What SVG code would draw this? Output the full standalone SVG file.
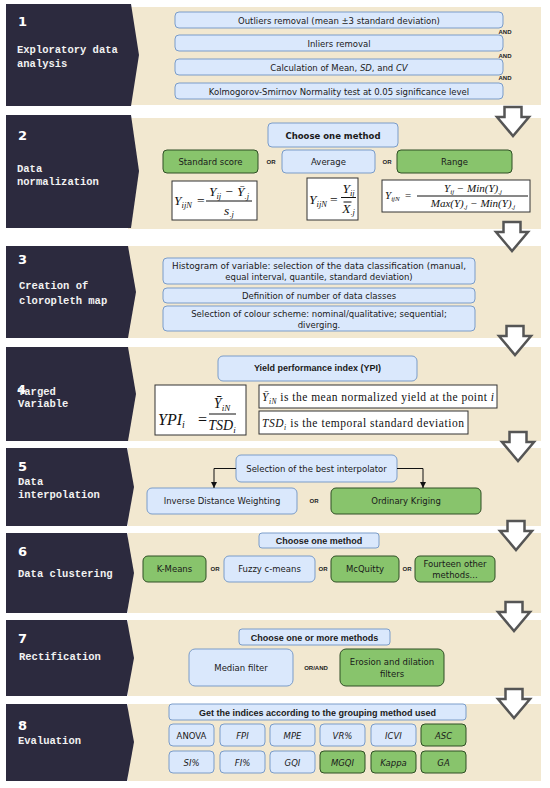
<svg xmlns="http://www.w3.org/2000/svg" width="550" height="788" viewBox="0 0 550 788">
<style>
.bg{fill:#f2e8d0}
.dk{fill:#2c2a3e}
.bl{fill:#dae8fc;stroke:#7a9cc9;stroke-width:1}
.gr{fill:#88c46c;stroke:#2f4f25;stroke-width:1}
.wb{fill:#fff;stroke:#333;stroke-width:1}
.t{font-family:"DejaVu Sans",Verdana,sans-serif;font-size:8.5px;fill:#1a1a1a;text-anchor:middle}
.h{font-family:"Liberation Sans",Arial,sans-serif;font-weight:bold;font-size:9px;fill:#1a1a1a;text-anchor:middle}
.lab{font-family:"Liberation Mono","Courier New",monospace;font-weight:bold;font-size:10.5px;fill:#f2f2f2}
.num{font-family:"DejaVu Sans",Verdana,sans-serif;font-weight:bold;font-size:13px;fill:#fff}
.op{font-family:"Liberation Sans",Arial,sans-serif;font-weight:bold;font-size:6px;fill:#222;text-anchor:middle}
.m{font-family:"Liberation Serif","Times New Roman",serif;font-style:italic;fill:#111}
.r{font-family:"Liberation Serif","Times New Roman",serif;fill:#111}
.ba{fill:#fff;stroke:#555;stroke-width:2.5;stroke-linejoin:miter}
.ln{fill:none;stroke:#111;stroke-width:1}
.i{font-style:italic}
</style>
<defs>
<marker id="ah" viewBox="0 0 10 10" refX="10" refY="5" markerWidth="6" markerHeight="6" markerUnits="userSpaceOnUse" orient="auto"><path d="M0,0 L10,5 L0,10 z" fill="#111"/></marker>
</defs>

<!-- Stage 1 -->
<g id="stage1">
<rect class="bg" x="128" y="7" width="413" height="98"/>
<path class="dk" d="M6,4 H131 L139,55 L131,106 H6 Z"/>
<text class="num" x="18" y="26">1</text>
<text class="lab" x="17" y="53">Exploratory data</text>
<text class="lab" x="17" y="67">analysis</text>
</g>
<g id="n1-outliers"><rect class="bl" x="175" y="12" width="328" height="16" rx="4"/><text class="t" x="339" y="23.5" font-size="9.5">Outliers removal (mean ±3 standard deviation)</text></g>
<g id="n1-inliers"><rect class="bl" x="175" y="35" width="328" height="16" rx="4"/><text class="t" x="339" y="46.5" font-size="9.5">Inliers removal</text></g>
<g id="n1-calc"><rect class="bl" x="175" y="59" width="328" height="16" rx="4"/><text class="t" x="339" y="70.5" font-size="9.5">Calculation of Mean, <tspan class="i">SD</tspan>, and <tspan class="i">CV</tspan></text></g>
<g id="n1-ks"><rect class="bl" x="175" y="83" width="328" height="16" rx="4"/><text class="t" x="339" y="94.5" font-size="9.5">Kolmogorov-Smirnov Normality test at 0.05 significance level</text></g>
<g id="n1-and">
<text class="op" x="505" y="34" text-anchor="start">AND</text>
<text class="op" x="505" y="58" text-anchor="start">AND</text>
<text class="op" x="505" y="80" text-anchor="start">AND</text>
</g>

<!-- Stage 2 -->
<g id="stage2">
<rect class="bg" x="128" y="118" width="413" height="111"/>
<path class="dk" d="M6,115 H131 L139,171 L131,228 H6 Z"/>
<text class="num" x="18" y="140">2</text>
<text class="lab" x="17" y="172">Data</text>
<text class="lab" x="17" y="185">normalization</text>
</g>
<g id="n2-choose"><rect class="bl" x="268" y="123" width="130" height="24" rx="4"/><text class="t" x="333" y="139" font-size="10" font-weight="bold">Choose one method</text></g>
<g id="n2-standard"><rect class="gr" x="163" y="150" width="95" height="23" rx="4"/><text class="t" x="210.5" y="165" font-size="9.5">Standard score</text></g>
<g id="n2-average"><rect class="bl" x="282" y="150" width="93" height="23" rx="4"/><text class="t" x="328.5" y="165" font-size="9.5">Average</text></g>
<g id="n2-range"><rect class="gr" x="397" y="150" width="115" height="23" rx="4"/><text class="t" x="454.5" y="165" font-size="9.5">Range</text></g>
<g id="n2-or">
<text class="op" x="271" y="164">OR</text>
<text class="op" x="387" y="164">OR</text>
</g>
<g id="n2-f1">
<rect class="wb" x="172" y="181" width="85" height="39"/>
<text class="m" x="174" y="205" font-size="13.5">Y<tspan font-size="8.5" dy="2.5">ijN</tspan></text>
<text class="r" x="197" y="205" font-size="13.5">=</text>
<text class="m" x="229" y="196" font-size="13.5" text-anchor="middle">Y<tspan font-size="8.5" dy="2.5">ij</tspan><tspan class="r" dy="-2.5"> − </tspan>Ȳ<tspan font-size="8.5" dy="2.5">.j</tspan></text>
<line class="ln" x1="206" y1="201" x2="252" y2="201"/>
<text class="m" x="229" y="214.5" font-size="13.5" text-anchor="middle">s<tspan font-size="8.5" dy="2">.j</tspan></text>
</g>
<g id="n2-f2">
<rect class="wb" x="307" y="178" width="51" height="42"/>
<text class="m" x="309" y="204" font-size="13.5">Y<tspan font-size="8.5" dy="2.5">ijN</tspan></text>
<text class="r" x="330" y="204" font-size="13.5">=</text>
<text class="m" x="348.5" y="193" font-size="13.5" text-anchor="middle">Y<tspan font-size="8.5" dy="2.5">ij</tspan></text>
<line class="ln" x1="341" y1="197.5" x2="356" y2="197.5"/>
<text class="m" x="348.5" y="212.5" font-size="13.5" text-anchor="middle">X<tspan font-size="8.5" dy="2">.j</tspan></text>
<line class="ln" x1="343.5" y1="202" x2="351.5" y2="202"/>
</g>
<g id="n2-f3">
<rect class="wb" x="382" y="180" width="148" height="32"/>
<text class="m" x="385" y="199" font-size="11">Y<tspan font-size="7" dy="2">ijN</tspan></text>
<text class="r" x="405" y="199" font-size="11">=</text>
<text class="m" x="473" y="192" font-size="11" text-anchor="middle">Y<tspan font-size="7" dy="2">ij</tspan><tspan class="r" dy="-2"> − </tspan>Min(Y)<tspan font-size="7" dy="2">.j</tspan></text>
<line class="ln" x1="417" y1="196" x2="528" y2="196"/>
<text class="m" x="473" y="207" font-size="11" text-anchor="middle">Max(Y)<tspan font-size="7" dy="2">.j</tspan><tspan class="r" dy="-2"> − </tspan>Min(Y)<tspan font-size="7" dy="2">.j</tspan></text>
</g>

<!-- Stage 3 -->
<g id="stage3">
<rect class="bg" x="128" y="246" width="413" height="92"/>
<path class="dk" d="M6,246 H128 L136,292 L128,338 H6 Z"/>
<text class="num" x="18" y="264">3</text>
<text class="lab" x="19" y="289">Creation of</text>
<text class="lab" x="19" y="304">cloropleth map</text>
</g>
<g id="n3-hist"><rect class="bl" x="163" y="258" width="312" height="26" rx="4"/>
<text class="t" x="319" y="269" textLength="294" lengthAdjust="spacingAndGlyphs">Histogram of variable: selection of the data classification (manual,</text>
<text class="t" x="319" y="280">equal interval, quantile, standard deviation)</text></g>
<g id="n3-classes"><rect class="bl" x="163" y="288" width="312" height="15" rx="4"/><text class="t" x="319" y="299">Definition of number of data classes</text></g>
<g id="n3-colour"><rect class="bl" x="163" y="306" width="312" height="25" rx="4"/>
<text class="t" x="319" y="317">Selection of colour scheme: nominal/qualitative; sequential;</text>
<text class="t" x="319" y="328">diverging.</text></g>

<!-- Stage 4 -->
<g id="stage4">
<rect class="bg" x="128" y="347" width="413" height="94"/>
<path class="dk" d="M6,347 H128 L136,394 L128,441 H6 Z"/>
<text class="num" x="17" y="394" font-size="12">4</text>
<text class="lab" x="18" y="395">Targed</text>
<text class="lab" x="18" y="407">Variable</text>
</g>
<g id="n4-ypi"><rect class="bl" x="218" y="356" width="199" height="25" rx="5"/><text class="h" x="317.5" y="371" font-size="8.5">Yield performance index (YPI)</text></g>
<g id="n4-formula">
<rect class="wb" x="155" y="385" width="91" height="50"/>
<text class="m" x="158" y="425" font-size="16">YPI<tspan class="r" font-size="10" dy="3">i</tspan></text>
<text class="r" x="198" y="425" font-size="16">=</text>
<text class="m" x="222" y="408" font-size="14" text-anchor="middle">Ȳ<tspan font-size="9" dy="3">iN</tspan></text>
<line class="ln" x1="209" y1="414" x2="236" y2="414"/>
<text class="m" x="222" y="430" font-size="14" text-anchor="middle">TSD<tspan class="r" font-size="9" dy="2.5">i</tspan></text>
</g>
<g id="n4-def1"><rect class="wb" x="259" y="385" width="238" height="23"/>
<text class="r" x="262" y="401" font-size="11.5" textLength="232" lengthAdjust="spacing"><tspan class="m">Ȳ</tspan><tspan class="m" font-size="7.5" dy="2.5">iN</tspan><tspan dy="-2.5"> is the mean normalized yield at the point </tspan><tspan class="m">i</tspan></text></g>
<g id="n4-def2"><rect class="wb" x="259" y="411" width="209" height="23"/>
<text class="r" x="262" y="427" font-size="11.5" textLength="202" lengthAdjust="spacing"><tspan class="m">TSD</tspan><tspan class="m" font-size="7.5" dy="2.5">i</tspan><tspan dy="-2.5"> is the temporal standard deviation</tspan></text></g>

<!-- Stage 5 -->
<g id="stage5">
<rect class="bg" x="128" y="448" width="413" height="78"/>
<path class="dk" d="M6,448 H127 L134,487 L127,526 H6 Z"/>
<text class="num" x="18" y="471">5</text>
<text class="lab" x="18" y="485">Data</text>
<text class="lab" x="18" y="498">interpolation</text>
</g>
<g id="n5-select"><rect class="bl" x="236" y="455" width="161" height="27" rx="5"/><text class="t" x="316.5" y="471.5">Selection of the best interpolator</text></g>
<g id="n5-idw"><rect class="bl" x="147" y="488" width="150" height="26" rx="5"/><text class="t" x="222" y="504">Inverse Distance Weighting</text></g>
<g id="n5-ok"><rect class="gr" x="331" y="488" width="150" height="26" rx="5"/><text class="t" x="406" y="504">Ordinary Kriging</text></g>
<g id="n5-or"><text class="op" x="314" y="503">OR</text></g>

<!-- Stage 6 -->
<g id="stage6">
<rect class="bg" x="128" y="533" width="413" height="80"/>
<path class="dk" d="M6,533 H127 L134,573 L127,613 H6 Z"/>
<text class="num" x="18" y="556">6</text>
<text class="lab" x="18" y="577">Data clustering</text>
</g>
<g id="n6-choose"><rect class="bl" x="259" y="533" width="120" height="15" rx="3"/><text class="h" x="319" y="544">Choose one method</text></g>
<g id="n6-kmeans"><rect class="gr" x="143" y="556" width="63" height="26" rx="5"/><text class="t" x="174.5" y="572" font-size="9">K-Means</text></g>
<g id="n6-fuzzy"><rect class="bl" x="224" y="556" width="91" height="26" rx="5"/><text class="t" x="269.5" y="572" font-size="9">Fuzzy c-means</text></g>
<g id="n6-mcquitty"><rect class="gr" x="331" y="556" width="68" height="26" rx="5"/><text class="t" x="365" y="572" font-size="9">McQuitty</text></g>
<g id="n6-other"><rect class="gr" x="415" y="556" width="80" height="26" rx="5"/><text class="t" x="455" y="566.5">Fourteen other</text><text class="t" x="455" y="577.5">methods...</text></g>
<g id="n6-or">
<text class="op" x="215" y="571">OR</text>
<text class="op" x="323" y="571">OR</text>
<text class="op" x="407" y="571">OR</text>
</g>

<!-- Stage 7 -->
<g id="stage7">
<rect class="bg" x="128" y="620" width="413" height="76"/>
<path class="dk" d="M6,620 H127 L134,658 L127,696 H6 Z"/>
<text class="num" x="18" y="643">7</text>
<text class="lab" x="19" y="660">Rectification</text>
</g>
<g id="n7-choose"><rect class="bl" x="239" y="629" width="151" height="16" rx="3"/><text class="h" x="314.5" y="640.5">Choose one or more methods</text></g>
<g id="n7-median"><rect class="bl" x="189" y="649" width="104" height="37" rx="6"/><text class="t" x="241" y="670.5" font-size="9">Median filter</text></g>
<g id="n7-erosion"><rect class="gr" x="340" y="649" width="104" height="37" rx="6"/><text class="t" x="392" y="664.5" font-size="9">Erosion and dilation</text><text class="t" x="392" y="676.5" font-size="9">filters</text></g>
<g id="n7-or"><text class="op" x="316" y="669.5" font-size="6.5">OR/AND</text></g>

<!-- Stage 8 -->
<g id="stage8">
<rect class="bg" x="128" y="704" width="413" height="77"/>
<path class="dk" d="M6,704 H127 L134,742 L127,781 H6 Z"/>
<text class="num" x="18" y="730">8</text>
<text class="lab" x="18" y="744">Evaluation</text>
</g>
<g id="n8-header"><rect class="bl" x="169" y="704" width="297" height="16" rx="3"/><text class="h" x="317.5" y="715.5" font-size="8.7">Get the indices according to the grouping method used</text></g>
<g id="n8-anova"><rect class="bl" x="169" y="724" width="45" height="22" rx="4"/><text class="t" x="191.5" y="738.5" font-size="9">ANOVA</text></g>
<g id="n8-fpi"><rect class="bl" x="220" y="724" width="45" height="22" rx="4"/><text class="t i" x="242.5" y="738.5" font-size="9">FPI</text></g>
<g id="n8-mpe"><rect class="bl" x="270" y="724" width="45" height="22" rx="4"/><text class="t i" x="292.5" y="738.5" font-size="9">MPE</text></g>
<g id="n8-vr"><rect class="bl" x="320" y="724" width="45" height="22" rx="4"/><text class="t i" x="342.5" y="738.5" font-size="9">VR%</text></g>
<g id="n8-icvi"><rect class="bl" x="371" y="724" width="45" height="22" rx="4"/><text class="t i" x="393.5" y="738.5" font-size="9">ICVI</text></g>
<g id="n8-asc"><rect class="gr" x="421" y="724" width="45" height="22" rx="4"/><text class="t i" x="443.5" y="738.5" font-size="9">ASC</text></g>
<g id="n8-si"><rect class="bl" x="169" y="751" width="45" height="22" rx="4"/><text class="t i" x="191.5" y="765.5" font-size="9">SI%</text></g>
<g id="n8-fi"><rect class="bl" x="220" y="751" width="45" height="22" rx="4"/><text class="t i" x="242.5" y="765.5" font-size="9">FI%</text></g>
<g id="n8-gqi"><rect class="bl" x="270" y="751" width="45" height="22" rx="4"/><text class="t i" x="292.5" y="765.5" font-size="9">GQI</text></g>
<g id="n8-mgqi"><rect class="gr" x="320" y="751" width="45" height="22" rx="4"/><text class="t i" x="342.5" y="765.5" font-size="9">MGQI</text></g>
<g id="n8-kappa"><rect class="gr" x="371" y="751" width="45" height="22" rx="4"/><text class="t i" x="393.5" y="765.5" font-size="9">Kappa</text></g>
<g id="n8-ga"><rect class="gr" x="421" y="751" width="45" height="22" rx="4"/><text class="t i" x="443.5" y="765.5" font-size="9">GA</text></g>

<!-- Connectors -->
<g id="connectors">
<path class="ln" d="M236,468.5 H214 V488" marker-end="url(#ah)"/>
<path class="ln" d="M397,468.5 H423 V488" marker-end="url(#ah)"/>
<path class="ba" d="M504.5,107 H521.5 V117 H529 L513,136 L497,117 H504.5 Z"/>
<path class="ba" d="M503.5,222 H520.5 V232 H528 L512,251 L496,232 H503.5 Z"/>
<path class="ba" d="M506.5,326 H523.5 V336 H531 L515,355 L499,336 H506.5 Z"/>
<path class="ba" d="M509.5,432 H526.5 V442 H534 L518,461 L502,442 H509.5 Z"/>
<path class="ba" d="M507.5,521 H524.5 V531 H532 L516,550 L500,531 H507.5 Z"/>
<path class="ba" d="M505.5,602 H522.5 V612 H530 L514,631 L498,612 H505.5 Z"/>
<path class="ba" d="M505.5,689 H522.5 V699 H530 L514,718 L498,699 H505.5 Z"/>
</g>
</svg>
